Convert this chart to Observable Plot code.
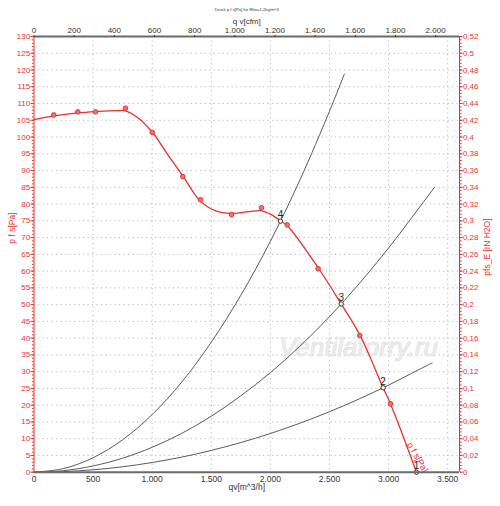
<!DOCTYPE html>
<html>
<head>
<meta charset="utf-8">
<script src="https://cdn.jsdelivr.net/npm/d3@7"></script>
<script src="https://cdn.jsdelivr.net/npm/@observablehq/plot@0.6"></script>
<style>
  html, body { margin: 0; padding: 0; background: #fff; }
  #chart svg { display: block; }
</style>
</head>
<body>
<div id="chart"></div>
<script>
// ---------- data ----------
const titleText = "Druck p f s[Pa] für Rho=1,2kg/m^3";
const M3H_PER_CFM = 1.699;
const PA_PER_INH2O = 250;

const xTicks = [0, 500, 1000, 1500, 2000, 2500, 3000, 3500];
const cfmTicks = [0, 200, 400, 600, 800, 1000, 1200, 1400, 1600, 1800, 2000];
const yTicks = [0,5,10,15,20,25,30,35,40,45,50,55,60,65,70,75,80,85,90,95,100,105,110,115,120,125,130];
const yMinor = d3.range(0, 131, 1);
const inTicks = [0,0.02,0.04,0.06,0.08,0.1,0.12,0.14,0.16,0.18,0.2,0.22,0.24,0.26,0.28,0.3,0.32,0.34,0.36,0.38,0.4,0.42,0.44,0.46,0.48,0.5,0.52];

// fan curve (smoothed line)
const fanQ  = [0, 167, 371, 520, 700, 774, 873, 1000, 1127, 1259, 1409, 1550, 1671, 1800, 1925, 2000, 2085, 2142, 2404, 2599, 2756, 2954, 3016, 3236];
const fanP  = [105.2, 106.3, 107.2, 107.6, 107.9, 107.8, 105.9, 101.5, 95.0, 88.4, 80.8, 77.8, 77.2, 77.7, 78.0, 77.0, 75.0, 73.6, 61.0, 50.2, 41.0, 25.2, 20.4, 0];
// measured markers
const markQ = [167, 371, 520, 774, 1000, 1259, 1409, 1671, 1925, 2142, 2404, 2756, 3016];
const markP = [106.6, 107.5, 107.5, 108.6, 101.4, 88.2, 81.3, 76.9, 78.9, 73.8, 60.7, 40.8, 20.4];

// system curves
const sysQ4 = [0, 250, 500, 750, 1000, 1250, 1500, 1750, 2000, 2250, 2500, 2626];
const sysP4 = [0, 1.08, 4.31, 9.69, 17.2, 26.9, 38.8, 52.8, 68.9, 87.2, 107.7, 118.8];
const sysQ3 = [0, 250, 500, 750, 1000, 1250, 1500, 1750, 2000, 2250, 2500, 2750, 3000, 3250, 3388];
const sysP3 = [0, 0.46, 1.86, 4.18, 7.43, 11.6, 16.7, 22.8, 29.7, 37.6, 46.4, 56.2, 66.9, 78.5, 85.0];
const sysQ2 = [0, 250, 500, 750, 1000, 1250, 1500, 1750, 2000, 2250, 2500, 2750, 3000, 3250, 3369];
const sysP2 = [0, 0.18, 0.72, 1.62, 2.89, 4.51, 6.5, 8.84, 11.55, 14.62, 18.05, 21.84, 25.99, 30.5, 32.6];

// operating points
const opLabel = ["1", "2", "3", "4"];
const opQ = [3236, 2954, 2599, 2085];
const opP = [0, 25.2, 50.2, 74.9];

// ---------- build ----------
const RED = "#e8302c";
const GRAY = "#5a5a5a";
const FONT = "'Liberation Sans', Arial, sans-serif";

const toRows = (xs, ys) => xs.map((x, i) => ({x, y: ys[i]}));
const fan = toRows(fanQ, fanP);
const marks = toRows(markQ, markP);
const ops = opQ.map((x, i) => ({x, y: opP[i], label: opLabel[i]}));

const thousands = d => {
  const s = String(Math.round(d));
  return s.length > 3 ? s.slice(0, s.length - 3) + "." + s.slice(-3) : s;
};
const commaDec = d => String(+d.toFixed(2)).replace(".", ",");

const plot = Plot.plot({
  width: 500,
  height: 506,
  marginLeft: 33.5,
  marginRight: 41,
  marginTop: 36,
  marginBottom: 34.3,
  x: {domain: [0, 3600]},
  y: {domain: [0, 130]},
  style: {fontFamily: FONT, background: "#fff", overflow: "visible"},
  marks: [
    Plot.gridX(xTicks.filter(d => d > 0), {stroke: "#b8b8b8", strokeOpacity: 1, strokeDasharray: "1.2,3.3"}),
    Plot.gridY(yTicks.filter(d => d > 0 && d < 130), {stroke: "#b8b8b8", strokeOpacity: 1, strokeDasharray: "1.2,3.3"}),
    // watermark
    Plot.text(["Ventilatorry.ru"], {x: 2745, y: 37.2, text: d => d, fontSize: 26, fontStyle: "italic",
      fill: "#ececec", stroke: "#cdcdcd", strokeWidth: 0.7, textAnchor: "middle"}),
    // system curves
    Plot.line(toRows(sysQ2, sysP2), {x: "x", y: "y", stroke: GRAY, strokeWidth: 1, curve: "catmull-rom"}),
    Plot.line(toRows(sysQ3, sysP3), {x: "x", y: "y", stroke: GRAY, strokeWidth: 1, curve: "catmull-rom"}),
    Plot.line(toRows(sysQ4, sysP4), {x: "x", y: "y", stroke: GRAY, strokeWidth: 1, curve: "catmull-rom"}),
    // fan curve
    Plot.line(fan, {x: "x", y: "y", stroke: RED, strokeWidth: 1.3, curve: "catmull-rom"}),
    Plot.dot(marks, {x: "x", y: "y", r: 2.3, fill: "#f27470", stroke: RED, strokeWidth: 1}),
    // operating points
    Plot.dot(ops, {x: "x", y: "y", r: 2.2, fill: "white", stroke: "#333", strokeWidth: 1}),
    Plot.text(ops, {x: "x", y: "y", text: "label", dy: -6, fontSize: 10, fill: "#222"}),
    // curve label
    Plot.text(["p f s[Pa]"], {x: 3244, y: 4.4, text: d => d, rotate: 60, fontSize: 9, fill: RED}),
    // frame
    Plot.ruleY([0, 130], {stroke: "#6a6a6a", strokeWidth: 2}),
    Plot.ruleX([0, 3600], {stroke: RED, strokeWidth: 1}),
    // axes
    Plot.axisX(xTicks, {anchor: "bottom", tickSize: 0, tickPadding: 4, tickFormat: thousands,
      fontSize: 8.5, color: "#333", label: null}),
    Plot.axisX(cfmTicks.map(c => c * M3H_PER_CFM), {anchor: "top", tickSize: 2, tickPadding: 1.2,
      tickFormat: d => thousands(d / M3H_PER_CFM), fontSize: 8, color: "#333", label: null}),
    Plot.axisY(yMinor, {anchor: "left", tickSize: 1.6, tickFormat: () => "", color: RED, label: null}),
    Plot.axisY(yTicks, {anchor: "left", tickSize: 3, tickPadding: 0.8, tickFormat: d => String(d),
      fontSize: 8, color: RED, label: null}),
    Plot.axisY(yMinor, {anchor: "right", tickSize: 1.6, tickFormat: () => "", color: RED, label: null}),
    Plot.axisY(inTicks.map(v => v * PA_PER_INH2O), {anchor: "right", tickSize: 2.6, tickPadding: 0.8,
      tickFormat: d => commaDec(d / PA_PER_INH2O), fontSize: 8, color: RED, label: null}),
    // titles
    Plot.text([titleText], {frameAnchor: "top", dy: -28, text: d => d, fontSize: 4.2, fill: "#333"}),
    Plot.text(["q v[cfm]"], {frameAnchor: "top", dy: -18.5, text: d => d, fontSize: 8, fill: "#333"}),
    Plot.text(["qv[m^3/h]"], {frameAnchor: "bottom", dy: 18, text: d => d, fontSize: 8.5, fill: "#333"}),
    Plot.text(["p f s[Pa]"], {frameAnchor: "left", y: 68.2, dx: -21.5, text: d => d, rotate: -90, fontSize: 8.5, fill: RED}),
    Plot.text(["pfs_E [IN H2O]"], {frameAnchor: "right", y: 75.7, dx: 28, text: d => d, rotate: -90, fontSize: 8.5, fill: RED})
  ]
});
document.getElementById("chart").appendChild(plot);
</script>
</body>
</html>
